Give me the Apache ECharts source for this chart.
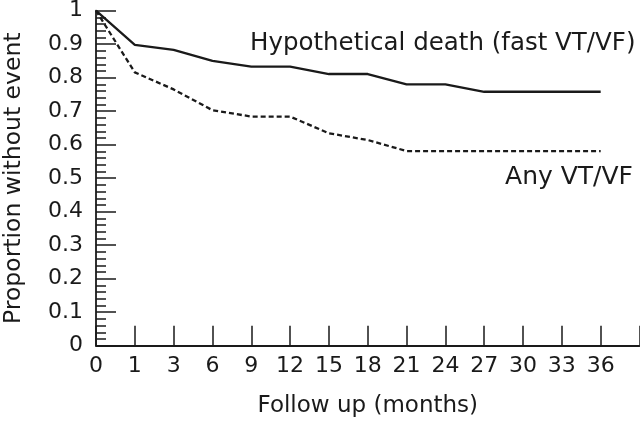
<!DOCTYPE html>
<html><head><meta charset="utf-8">
<script src="https://cdn.jsdelivr.net/npm/echarts@6/dist/echarts.min.js"></script>
<style>html,body{margin:0;padding:0;background:#fff}#c{width:640px;height:423px}</style>
</head><body><div id="c"></div>
<script>
var months = ['0','1','3','6','9','12','15','18','21','24','27','30','33','36',''];
var hypotheticalDeath = [1, 0.898, 0.883, 0.85, 0.833, 0.833, 0.811, 0.811, 0.78, 0.78, 0.758, 0.758, 0.758, 0.758];
var anyVTVF = [1, 0.816, 0.765, 0.703, 0.684, 0.684, 0.634, 0.614, 0.581, 0.581, 0.581, 0.581, 0.581, 0.581];
var yTicks = [0, 0.1, 0.2, 0.3, 0.4, 0.5, 0.6, 0.7, 0.8, 0.9, 1];

var FONT = 'DejaVu Sans';
var ink = '#1a1a1a';
var chart = echarts.init(document.getElementById('c'), null, {renderer:'canvas'});
chart.setOption({
  animation: false,
  backgroundColor: '#fff',
  grid: {left: 96, right: 0.5, top: 10.7, bottom: 77.3, containLabel: false, outerBoundsMode: 'none'},
  xAxis: {
    type: 'category', data: months, boundaryGap: false,
    name: 'Follow up (months)', nameLocation: 'middle', nameGap: 49,
    nameTextStyle: {fontFamily: FONT, fontSize: 23, color: ink},
    axisLine: {lineStyle: {color: ink, width: 1.8}},
    axisTick: {inside: true, length: 20, alignWithLabel: true, interval: 0, lineStyle: {color: ink, width: 1.5}},
    axisLabel: {interval: 0, margin: 10, fontFamily: FONT, fontSize: 22, color: ink},
    splitLine: {show: false}
  },
  yAxis: {
    type: 'value', min: 0, max: 1, interval: 0.1,
    name: 'Proportion without event', nameLocation: 'middle', nameGap: 70,
    nameTextStyle: {fontFamily: FONT, fontSize: 23.5, color: ink},
    axisLine: {show: true, lineStyle: {color: ink, width: 1.8}},
    axisTick: {show: true, inside: true, length: 20, lineStyle: {color: ink, width: 1.5}},
    minorTick: {show: true, splitNumber: 5, length: 10, lineStyle: {color: ink, width: 1.5}},
    axisLabel: {margin: 13, fontFamily: FONT, fontSize: 22, color: ink,
      formatter: function(v){ var r = Math.round(v*10)/10; return yTicks.indexOf(r) >= 0 ? String(r) : ''; }},
    splitLine: {show: false}
  },
  series: [
    {name: 'Hypothetical death (fast VT/VF)', type: 'line', data: hypotheticalDeath, symbol: 'none',
     lineStyle: {color: ink, width: 2.3}},
    {name: 'Any VT/VF', type: 'line', data: anyVTVF, symbol: 'none',
     lineStyle: {color: ink, width: 2.3, type: [5, 3]}}
  ],
  graphic: [
    {type: 'text', x: 250, y: 44, style: {text: 'Hypothetical death (fast VT/VF)', font: '24.5px "' + FONT + '"', fill: ink, textAlign: 'left', textVerticalAlign: 'middle'}},
    {type: 'text', x: 633, y: 177, style: {text: 'Any VT/VF', font: '25px "' + FONT + '"', fill: ink, textAlign: 'right', textVerticalAlign: 'middle'}}
  ]
});
</script></body></html>
